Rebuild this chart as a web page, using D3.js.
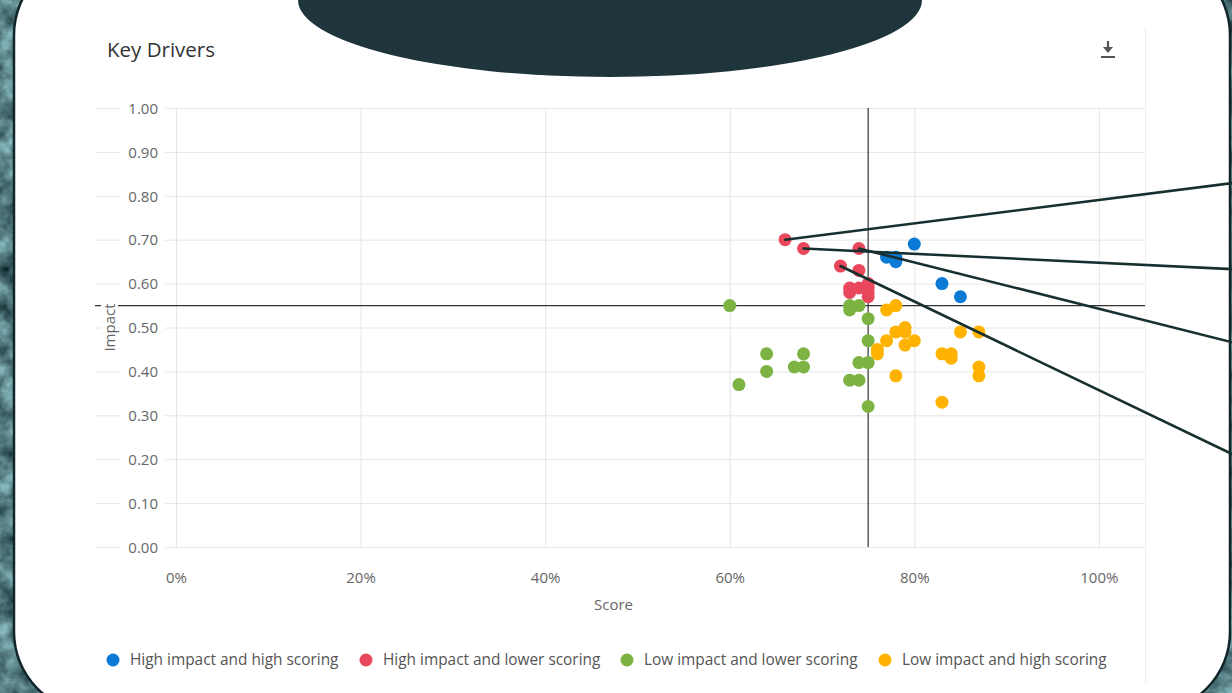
<!DOCTYPE html>
<html><head><meta charset="utf-8">
<script src="https://cdn.jsdelivr.net/npm/d3@7"></script>
<style>
html,body{margin:0;padding:0;overflow:hidden;background:#456b70;}
svg{display:block;font-family:'Open Sans',sans-serif;}
</style></head>
<body>
<svg id="chart" width="1232" height="693"></svg>
<script>
// ---------------- data ----------------
const chartTitle = "Key Drivers";
const xAxisTitle = "Score";
const yAxisTitle = "Impact";
const xTickValues = [0, 0.2, 0.4, 0.6, 0.8, 1.0];
const yTickValues = [0, 0.1, 0.2, 0.3, 0.4, 0.5, 0.6, 0.7, 0.8, 0.9, 1.0];
const seriesNames = ["High impact and high scoring", "High impact and lower scoring", "Low impact and lower scoring", "Low impact and high scoring"];
const seriesColors = ["#0a7ad6", "#e9475c", "#7cb342", "#ffb300"];

const highHighScore  = [0.80, 0.77, 0.78, 0.78, 0.83, 0.85];
const highHighImpact = [0.69, 0.66, 0.66, 0.65, 0.60, 0.57];

const highLowScore  = [0.66, 0.68, 0.74, 0.72, 0.74, 0.73, 0.73, 0.74, 0.75, 0.75, 0.75, 0.75];
const highLowImpact = [0.70, 0.68, 0.68, 0.64, 0.63, 0.59, 0.58, 0.59, 0.60, 0.59, 0.58, 0.57];

const lowLowScore  = [0.60, 0.61, 0.64, 0.64, 0.67, 0.68, 0.68, 0.73, 0.73, 0.74, 0.75, 0.75, 0.74, 0.75, 0.73, 0.74, 0.75];
const lowLowImpact = [0.55, 0.37, 0.44, 0.40, 0.41, 0.44, 0.41, 0.55, 0.54, 0.55, 0.52, 0.47, 0.42, 0.42, 0.38, 0.38, 0.32];

const lowHighScore  = [0.77, 0.78, 0.78, 0.79, 0.79, 0.77, 0.80, 0.79, 0.76, 0.76, 0.78, 0.83, 0.84, 0.84, 0.85, 0.87, 0.87, 0.87, 0.83];
const lowHighImpact = [0.54, 0.55, 0.49, 0.50, 0.49, 0.47, 0.47, 0.46, 0.45, 0.44, 0.39, 0.44, 0.44, 0.43, 0.49, 0.49, 0.41, 0.39, 0.33];

const quadrantScore = 0.75;
const quadrantImpact = 0.55;

// callout lines: from a data point to a target (in data units) off the right side
const calloutFromScore  = [0.66, 0.68, 0.74, 0.72];
const calloutFromImpact = [0.70, 0.68, 0.68, 0.64];
const calloutToScore    = [1.145, 1.145, 1.145, 1.145];
const calloutToImpact   = [0.829, 0.633, 0.466, 0.211];

// ---------------- drawing ----------------
const W = 1232, H = 693;
const svg = d3.select("#chart");
const defs = svg.append("defs");

// textured backdrop
const f = defs.append("filter").attr("id", "tex").attr("x", 0).attr("y", 0).attr("width", 1).attr("height", 1)
  .attr("color-interpolation-filters", "sRGB");
f.append("feTurbulence").attr("type", "fractalNoise").attr("baseFrequency", 0.05).attr("numOctaves", 4).attr("seed", 7);
f.append("feColorMatrix").attr("type", "matrix")
  .attr("values", "0.7 0 0 0 -0.02  0.85 0 0 0 0.06  0.85 0 0 0 0.08  0 0 0 0 1");
svg.append("rect").attr("width", W).attr("height", H).attr("filter", "url(#tex)");

// white card
const cardX = 14, cardY = -45, cardW = 1216, cardH = 757, cardR = 80;
svg.append("rect").attr("x", cardX).attr("y", cardY).attr("width", cardW).attr("height", cardH)
  .attr("rx", cardR).attr("ry", cardR).attr("fill", "#fff").attr("stroke", "#10262a").attr("stroke-width", 2.5);

// top dark ellipse
svg.append("ellipse").attr("cx", 610).attr("cy", 0).attr("rx", 312).attr("ry", 77).attr("fill", "#1e353b");

// chart container right edge
svg.append("line").attr("x1", 1145.5).attr("x2", 1145.5).attr("y1", 27).attr("y2", 683)
  .attr("stroke", "#efefef").attr("stroke-width", 1);

// title
svg.append("text").attr("x", 107).attr("y", 57).attr("font-size", 20.5).attr("fill", "#333").text(chartTitle);

// download icon
const ic = svg.append("g").attr("fill", "#555").attr("stroke", "#555");
ic.append("line").attr("x1", 1108).attr("x2", 1108).attr("y1", 41).attr("y2", 50).attr("stroke-width", 2.2);
ic.append("path").attr("d", "M1103,47 L1113,47 L1108,53 Z").attr("stroke", "none");
ic.append("line").attr("x1", 1101).attr("x2", 1115).attr("y1", 57).attr("y2", 57).attr("stroke-width", 2);

// scales
const plotL = 176, plotR = 1145, plotT = 108, plotB = 547;
const gridL = 95;
const x = d3.scaleLinear().domain([0, 1.05]).range([plotL, plotR]);
const y = d3.scaleLinear().domain([0, 1]).range([plotB, plotT]);

// grid lines via axes
const yGrid = d3.axisLeft(y).tickValues(yTickValues).tickSize(-(plotR - gridL)).tickFormat("");
svg.append("g").attr("transform", `translate(${gridL},0)`).call(yGrid)
  .call(g => g.select(".domain").remove())
  .call(g => g.selectAll(".tick line").attr("stroke", "#e6e6e6").attr("stroke-width", 1));

const xGrid = d3.axisBottom(x).tickValues(xTickValues).tickSize(-(plotB - plotT)).tickFormat("");
svg.append("g").attr("transform", `translate(0,${plotB})`).call(xGrid)
  .call(g => g.select(".domain").remove())
  .call(g => g.selectAll(".tick line").attr("stroke", "#e6e6e6").attr("stroke-width", 1));

// quadrant lines
svg.append("line").attr("x1", gridL).attr("x2", plotR).attr("y1", y(quadrantImpact)).attr("y2", y(quadrantImpact))
  .attr("stroke", "#333").attr("stroke-width", 1.2);
svg.append("line").attr("x1", x(quadrantScore)).attr("x2", x(quadrantScore)).attr("y1", plotT).attr("y2", plotB)
  .attr("stroke", "#333").attr("stroke-width", 1.2);

// y tick labels with white backing
const yAx = d3.axisLeft(y).tickValues(yTickValues).tickSize(0).tickPadding(0).tickFormat(d3.format(".2f"));
const yg = svg.append("g").attr("transform", `translate(158,0)`).call(yAx);
yg.select(".domain").remove();
yg.selectAll(".tick").insert("rect", "text").attr("x", -37).attr("y", -9).attr("width", 44).attr("height", 18).attr("fill", "#fff");
yg.selectAll(".tick text").attr("font-family", "'Open Sans',sans-serif").attr("font-size", 15).attr("fill", "#666").attr("dy", "0.35em");

// x tick labels
const xAx = d3.axisBottom(x).tickValues(xTickValues).tickSize(0).tickPadding(0).tickFormat(d3.format(".0%"));
const xg = svg.append("g").attr("transform", `translate(0,572)`).call(xAx);
xg.select(".domain").remove();
xg.selectAll(".tick text").attr("font-family", "'Open Sans',sans-serif").attr("font-size", 15).attr("fill", "#666").attr("dy", "0.35em").attr("y", 6);

// axis titles
svg.append("text").attr("x", (plotL + plotR) / 2 - 47).attr("y", 610).attr("text-anchor", "middle")
  .attr("font-size", 15).attr("fill", "#666").text(xAxisTitle);
const yt = svg.append("g").attr("transform", `translate(110,${y(quadrantImpact) + 22}) rotate(-90)`);
yt.append("rect").attr("x", -30).attr("y", -9).attr("width", 60).attr("height", 17).attr("fill", "#fff");
yt.append("text").attr("text-anchor", "middle").attr("dy", "0.35em").attr("font-size", 15).attr("fill", "#666").text(yAxisTitle);

// points
const series = [
  [highHighScore, highHighImpact],
  [highLowScore, highLowImpact],
  [lowLowScore, lowLowImpact],
  [lowHighScore, lowHighImpact]
];
series.forEach((s, i) => {
  const pts = s[0].map((v, j) => [v, s[1][j]]);
  svg.append("g").selectAll("circle").data(pts).join("circle")
    .attr("cx", d => x(d[0])).attr("cy", d => y(d[1])).attr("r", 6.5)
    .attr("fill", seriesColors[i]);
});

// callouts
const callouts = calloutFromScore.map((v, i) => ({x1: v, y1: calloutFromImpact[i], x2: calloutToScore[i], y2: calloutToImpact[i]}));
svg.append("g").selectAll("line").data(callouts).join("line")
  .attr("x1", d => x(d.x1)).attr("y1", d => y(d.y1))
  .attr("x2", d => x(d.x2)).attr("y2", d => y(d.y2))
  .attr("stroke", "#17302f").attr("stroke-width", 2.6).attr("stroke-linecap", "round");

// legend
const legendX = [113, 366, 627, 885];
const lg = svg.append("g").selectAll("g").data(seriesNames).join("g")
  .attr("transform", (d, i) => `translate(${legendX[i]},660)`);
lg.append("circle").attr("r", 6.5).attr("fill", (d, i) => seriesColors[i]);
lg.append("text").attr("x", 17).attr("dy", "0.35em").attr("font-size", 15.4).attr("fill", "#555").text(d => d);
</script>
</body></html>
